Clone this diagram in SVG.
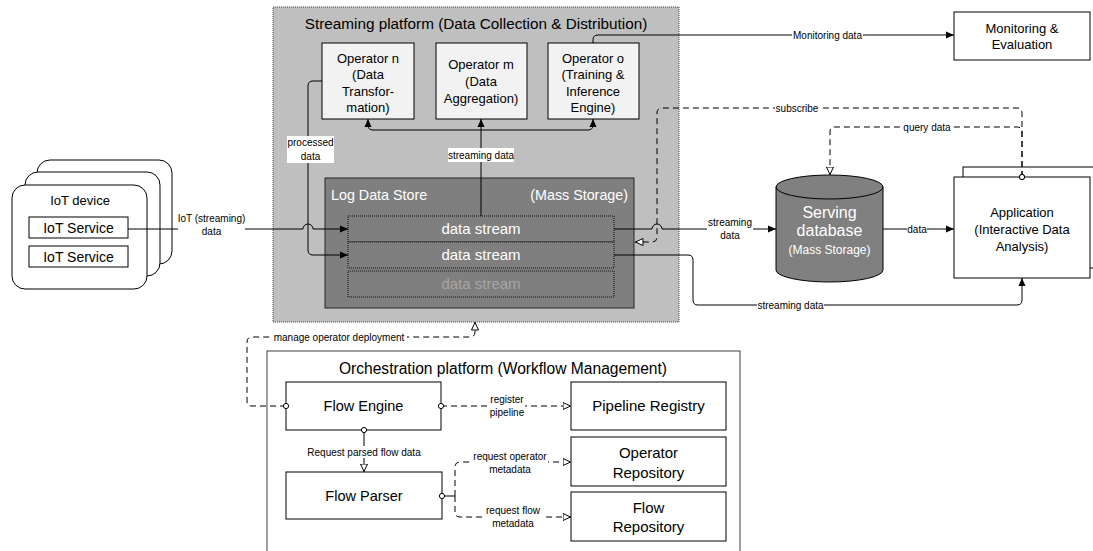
<svg xmlns="http://www.w3.org/2000/svg" width="1093" height="551" viewBox="0 0 1093 551">
<style>
text{font-family:"Liberation Sans",Arial,sans-serif;fill:#000}
.c{text-anchor:middle}
.lbl{font-size:10px;text-anchor:middle}
.op{font-size:13px;text-anchor:middle}
.box{fill:#fff;stroke:#000;stroke-width:1}
.opb{fill:#f2f2f2;stroke:#000;stroke-width:1}
.ln{fill:none;stroke:#000;stroke-width:1}
.dl{fill:none;stroke:#000;stroke-width:1;stroke-dasharray:6,4}
.bg{fill:#fff}
.ds{fill:#7f7f7f;stroke:#111;stroke-width:1;stroke-dasharray:1,1}
.wt{fill:#fff;font-size:15px;text-anchor:middle}
</style>
<defs>
<marker id="arr" viewBox="0 0 8 8" refX="8" refY="4" markerWidth="8" markerHeight="8" markerUnits="userSpaceOnUse" orient="auto"><path d="M0,0.5 L8,4 L0,7.5 z" fill="#000"/></marker>
<marker id="oarr" viewBox="0 0 9 9" refX="8.5" refY="4.5" markerWidth="9" markerHeight="9" markerUnits="userSpaceOnUse" orient="auto"><path d="M0.5,1 L8,4.5 L0.5,8 z" fill="#fff" stroke="#000" stroke-width="1"/></marker>
<marker id="circ" viewBox="0 0 7 7" refX="3.5" refY="3.5" markerWidth="7" markerHeight="7" markerUnits="userSpaceOnUse" orient="auto"><circle cx="3.5" cy="3.5" r="2.6" fill="#fff" stroke="#000" stroke-width="1"/></marker>
</defs>

<g id="streaming-platform">
<rect x="273" y="7" width="406" height="315" fill="#bfbfbf" stroke="#404040" stroke-width="1" stroke-dasharray="1,1"/>
<text class="c" x="476" y="28.5" font-size="15.3">Streaming platform (Data Collection &amp; Distribution)</text>
</g>

<g id="operator-n">
<rect class="opb" x="322" y="43" width="92" height="76"/>
<text class="op" x="368" y="62.5">Operator n</text>
<text class="op" x="368" y="79">(Data</text>
<text class="op" x="368" y="95.5">Transfor-</text>
<text class="op" x="368" y="112">mation)</text>
</g>
<g id="operator-m">
<rect class="opb" x="436" y="43" width="91" height="76"/>
<text class="op" x="481" y="68.5">Operator m</text>
<text class="op" x="481" y="85.5">(Data</text>
<text class="op" x="481" y="102.5">Aggregation)</text>
</g>
<g id="operator-o">
<rect class="opb" x="548" y="43" width="91" height="76"/>
<text class="op" x="593" y="62.5">Operator o</text>
<text class="op" x="593" y="79">(Training &amp;</text>
<text class="op" x="593" y="95.5">Inference</text>
<text class="op" x="593" y="112">Engine)</text>
</g>

<g id="log-data-store">
<rect x="325" y="178" width="309" height="130" fill="#7f7f7f" stroke="#262626" stroke-width="1"/>
<text x="331" y="200" font-size="14.3" style="fill:#fff">Log Data Store</text>
<text x="628" y="200" font-size="14.3" text-anchor="end" style="fill:#fff">(Mass Storage)</text>
<rect class="ds" x="348" y="216" width="266" height="26"/>
<rect class="ds" x="348" y="242" width="266" height="26"/>
<rect class="ds" x="348" y="271" width="266" height="26"/>
<text class="wt" x="481" y="234" style="fill:#fff">data stream</text>
<text class="wt" x="481" y="260" style="fill:#fff">data stream</text>
<text class="wt" x="481" y="289" style="fill:#a6a6a6">data stream</text>
</g>

<g id="iot-device">
<rect class="box" x="37" y="160" width="135" height="104" rx="13"/>
<rect class="box" x="25" y="172" width="135" height="104" rx="13"/>
<rect class="box" x="12" y="185" width="135" height="104" rx="13"/>
<text class="c" x="80" y="204.5" font-size="13">IoT device</text>
<rect class="box" x="29" y="217" width="99" height="21"/>
<text class="c" x="78.5" y="232.5" font-size="14">IoT Service</text>
<rect class="box" x="29" y="246" width="99" height="21"/>
<text class="c" x="78.5" y="261.5" font-size="14">IoT Service</text>
</g>

<g id="monitoring">
<rect class="box" x="954" y="12" width="136" height="48"/>
<text class="c" x="1022" y="32.5" font-size="13">Monitoring &amp;</text>
<text class="c" x="1022" y="48.5" font-size="13">Evaluation</text>
</g>

<g id="serving-database">
<path d="M776,187 A53.5,12 0 0 1 883,187 V270 A53.5,12 0 0 1 776,270 Z" fill="#808080" stroke="#000" stroke-width="1"/>
<path d="M776,187 A53.5,12 0 0 0 883,187" fill="none" stroke="#000" stroke-width="1"/>
<text class="c" x="829.5" y="217.5" font-size="16" style="fill:#fff">Serving</text>
<text class="c" x="829.5" y="235.5" font-size="16" style="fill:#fff">database</text>
<text class="c" x="829.5" y="254" font-size="12" style="fill:#fff">(Mass Storage)</text>
</g>

<g id="application">
<rect class="box" x="963" y="167" width="140" height="101"/>
<rect class="box" x="954" y="177" width="136" height="101"/>
<text class="c" x="1022" y="216.5" font-size="13">Application</text>
<text class="c" x="1022" y="233.5" font-size="13">(Interactive Data</text>
<text class="c" x="1022" y="250.5" font-size="13">Analysis)</text>
</g>

<g id="orchestration-platform">
<rect x="267" y="351" width="473" height="230" fill="#fff" stroke="#404040" stroke-width="1"/>
<text class="c" x="503" y="373.5" font-size="15.6">Orchestration platform (Workflow Management)</text>
</g>
<g id="flow-engine">
<rect class="box" x="286" y="382" width="155" height="48"/>
<text class="c" x="363.5" y="411" font-size="14.5">Flow Engine</text>
</g>
<g id="flow-parser">
<rect class="box" x="286" y="472" width="156" height="47"/>
<text class="c" x="364" y="501" font-size="14.5">Flow Parser</text>
</g>
<g id="pipeline-registry">
<rect class="box" x="571" y="382" width="155" height="48"/>
<text class="c" x="648.5" y="411" font-size="15">Pipeline Registry</text>
</g>
<g id="operator-repository">
<rect class="box" x="571" y="437" width="155" height="49"/>
<text class="c" x="648.5" y="458" font-size="15">Operator</text>
<text class="c" x="648.5" y="478" font-size="15">Repository</text>
</g>
<g id="flow-repository">
<rect class="box" x="571" y="492" width="155" height="49"/>
<text class="c" x="648.5" y="513" font-size="15">Flow</text>
<text class="c" x="648.5" y="532" font-size="15">Repository</text>
</g>

<g id="connectors">
<path class="ln" d="M481,216 V119" marker-end="url(#arr)"/>
<path class="ln" d="M481,130 H373 Q368,130 368,125 V119" marker-end="url(#arr)"/>
<path class="ln" d="M481,130 H588 Q593,130 593,125 V119" marker-end="url(#arr)"/>
<rect class="bg" x="448" y="148" width="66" height="14"/>
<text class="lbl" x="481" y="158.5">streaming data</text>
<path class="ln" d="M322,81 H313 Q308,81 308,86 V250 Q308,255 313,255 H348" marker-end="url(#arr)"/>
<rect class="bg" x="287" y="136" width="47" height="27"/>
<text class="lbl" x="310.5" y="145.5">processed</text>
<text class="lbl" x="310.5" y="159.5">data</text>
<path class="ln" d="M128,229 H303 A5,5 0 0 1 313,229 H348" marker-end="url(#arr)"/>
<rect class="bg" x="178" y="211" width="67" height="28"/>
<text class="lbl" x="211.5" y="222">IoT (streaming)</text>
<text class="lbl" x="211.5" y="235">data</text>
<path class="ln" d="M593,43 V40 Q593,35 598,35 H954" marker-end="url(#arr)"/>
<rect class="bg" x="792" y="29" width="71" height="12"/>
<text class="lbl" x="827.5" y="38.5">Monitoring data</text>
<path class="dl" d="M1022,177 V113 Q1022,108 1017,108 H662 Q657,108 657,113 V237 Q657,242 652,242 H635" marker-start="url(#circ)" marker-end="url(#oarr)"/>
<rect class="bg" x="775" y="102" width="44" height="12"/>
<text class="lbl" x="797" y="111.5">subscribe</text>
<path class="dl" d="M1022,177 V132 Q1022,127 1017,127 H835 Q830,127 830,132 V175" marker-start="url(#circ)" marker-end="url(#oarr)"/>
<rect class="bg" x="902" y="121" width="50" height="12"/>
<text class="lbl" x="927" y="130.5">query data</text>
<path class="ln" d="M614,229 H652 A5,5 0 0 1 662,229 H776" marker-end="url(#arr)"/>
<rect class="bg" x="707" y="215" width="46" height="26"/>
<text class="lbl" x="730" y="225.5">streaming</text>
<text class="lbl" x="730" y="238.5">data</text>
<path class="ln" d="M883,229 H954" marker-end="url(#arr)"/>
<rect class="bg" x="907" y="223" width="20" height="12"/>
<text class="lbl" x="917" y="232.5">data</text>
<path class="ln" d="M614,255 H688 Q693,255 693,260 V300 Q693,305 698,305 H1017 Q1022,305 1022,300 V278" marker-end="url(#arr)"/>
<rect class="bg" x="757" y="299" width="67" height="12"/>
<text class="lbl" x="790.5" y="308.5">streaming data</text>
<path class="dl" d="M286,406 H252 Q247,406 247,401 V342 Q247,337 252,337 H470 Q475,337 475,332 V322" marker-start="url(#circ)" marker-end="url(#oarr)"/>
<rect class="bg" x="271" y="331" width="136" height="12"/>
<text class="lbl" x="339" y="340.5">manage operator deployment</text>
<path class="dl" d="M441,406 H571" marker-start="url(#circ)" marker-end="url(#oarr)"/>
<rect class="bg" x="489" y="393" width="36" height="25"/>
<text class="lbl" x="507" y="403">register</text>
<text class="lbl" x="507" y="416">pipeline</text>
<path class="ln" d="M364,430 V472" marker-start="url(#circ)" marker-end="url(#oarr)"/>
<rect class="bg" x="307" y="446" width="114" height="12"/>
<text class="lbl" x="364" y="455.5">Request parsed flow data</text>
<path class="ln" d="M442,496 H455" marker-start="url(#circ)"/>
<path class="dl" d="M455,496 V467 Q455,462 460,462 H571" marker-end="url(#oarr)"/>
<path class="dl" d="M455,496 V512 Q455,517 460,517 H571" marker-end="url(#oarr)"/>
<rect class="bg" x="472" y="451" width="76" height="24"/>
<text class="lbl" x="510" y="460">request operator</text>
<text class="lbl" x="510" y="473">metadata</text>
<rect class="bg" x="483" y="505" width="60" height="24"/>
<text class="lbl" x="513" y="514">request flow</text>
<text class="lbl" x="513" y="527">metadata</text>
</g>
</svg>
